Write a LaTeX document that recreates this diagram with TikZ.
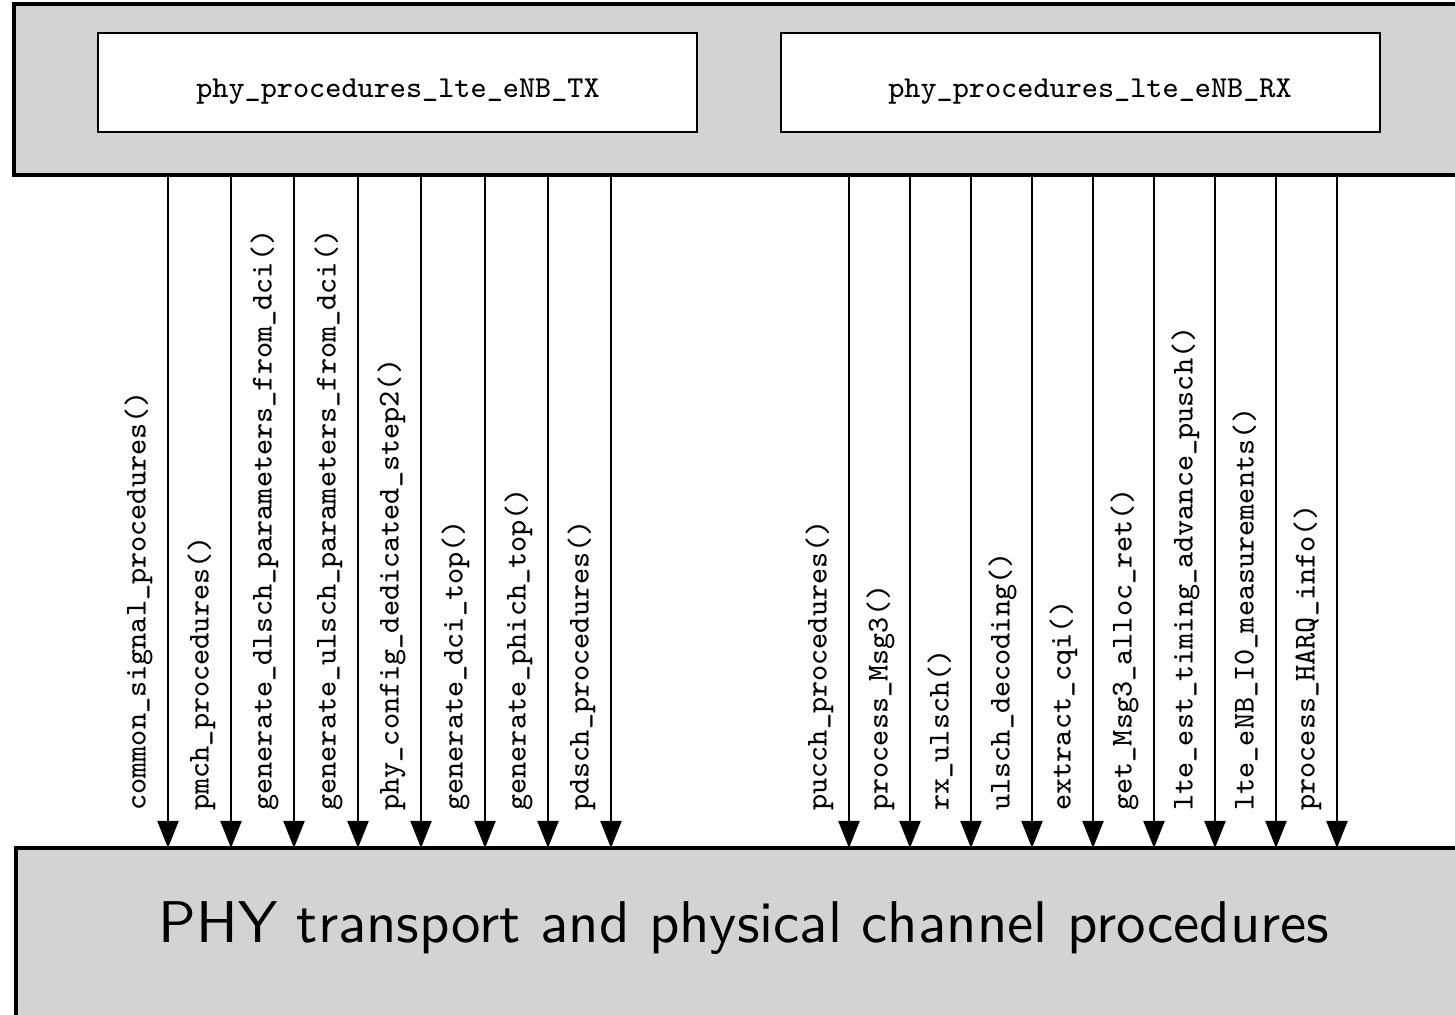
\documentclass[tikz,border=0pt]{standalone}
\usepackage{fontspec}
\usetikzlibrary{arrows.meta,fit}
\newfontfamily\codefont{lmmono8-regular.otf}
\newfontfamily\layerfont{lmsans10-regular.otf}
\definecolor{boxgray}{RGB}{211,211,211}
\tikzset{
  outerbox/.style={draw, line width=1.9pt, fill=boxgray, inner sep=0pt, rectangle},
  procbox/.style={draw, line width=1.5pt, fill=white, inner sep=0pt, rectangle},
  proctext/.style={font=\fontsize{17.3}{20}\selectfont\codefont, inner sep=0pt, anchor=base},
  fnlabel/.style={font=\fontsize{17.3}{20}\selectfont\codefont, inner sep=0pt, rotate=90, anchor=base west},
  call/.style={line width=1.3pt, -{Triangle[length=15.5pt,width=12pt]}},
  layertext/.style={font=\fontsize{33.5}{40}\selectfont\layerfont, inner sep=0pt, anchor=base}
}
\begin{document}
\begin{tikzpicture}[x=0.02cm, y=-0.02cm]
  \useasboundingbox (0,0) rectangle (1455,1015);

  % eNB procedure layer and the PHY layer below it
  \node[outerbox, fit={(14,4) (1490,175)}] (top) {};
  \node[outerbox, fit={(16,848) (1490,1040)}] (bot) {};

  % TX and RX procedure blocks
  \node[procbox, fit={(98,33) (697,132)}] (tx) {};
  \node[procbox, fit={(781,33) (1380,132)}] (rx) {};
  \node[proctext] (txname) at (398,97) {phy\_procedures\_lte\_eNB\_TX};
  \node[proctext] (rxname) at (1090,97) {phy\_procedures\_lte\_eNB\_RX};

  \node[layertext] (phy) at (744,942) {PHY transport and physical channel procedures};

  % function calls from the procedure layer down to the PHY layer
  \foreach \xx/\fn [count=\i] in {
      168/common\_signal\_procedures(),
      231/pmch\_procedures(),
      294/generate\_dlsch\_parameters\_from\_dci(),
      358/generate\_ulsch\_parameters\_from\_dci(),
      421/phy\_config\_dedicated\_step2(),
      485/generate\_dci\_top(),
      548/generate\_phich\_top(),
      611/pdsch\_procedures(),
      849/pucch\_procedures(),
      910/process\_Msg3(),
      971/rx\_ulsch(),
      1032/ulsch\_decoding(),
      1093/extract\_cqi(),
      1154/get\_Msg3\_alloc\_ret(),
      1215/lte\_est\_timing\_advance\_pusch(),
      1276/lte\_eNB\_I0\_measurements(),
      1337/process\_HARQ\_info()} {
    \coordinate (s\i) at (\xx,175);
    \coordinate (e\i) at (\xx,848);
    \draw[call] (s\i) -- (e\i);
    \node[fnlabel] (lab\i) at (\xx-22.5,811) {\fn};
  }
\end{tikzpicture}
\end{document}
